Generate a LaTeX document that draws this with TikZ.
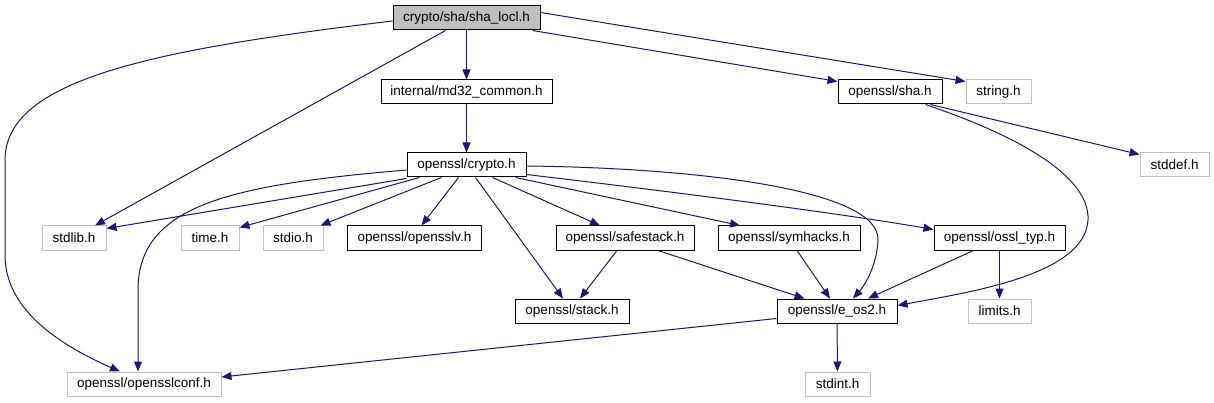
\documentclass[tikz,border=0pt]{standalone}
\usepackage{fontspec}
\setmainfont{Liberation Sans}
\usetikzlibrary{arrows.meta}
\definecolor{edgeblue}{HTML}{191970}
\definecolor{extgray}{HTML}{C0C0C0}

\begin{document}
\begin{tikzpicture}[
  x=1pt, y=-1pt,
  font=\fontsize{13.5}{16}\selectfont,
  hdr/.style={draw=black, line width=1pt, fill=white, minimum height=24pt, inner sep=0pt, anchor=center},
  sys/.style={hdr, draw=extgray},
  dep/.style={draw=edgeblue, line width=1pt, -{Triangle[length=10pt,width=8pt]}}
]
\useasboundingbox (0,0) rectangle (1214,403);

% row 1 and 2
\node[hdr, fill=gray!50, minimum width=147pt] (shalocl) at (466.5,18) {crypto/sha/sha\_locl.h};
\node[hdr, minimum width=171pt] (md32) at (466.5,92) {internal/md32\_common.h};
\node[hdr, minimum width=104pt] (sha) at (890,92) {openssl/sha.h};
\node[sys, minimum width=65pt] (string) at (998.5,92) {string.h};

% row 3
\node[hdr, minimum width=119pt] (crypto) at (466.5,165) {openssl/crypto.h};
\node[sys, minimum width=69pt] (stddef) at (1174.5,165) {stddef.h};

% row 4
\node[sys, minimum width=64pt] (stdlib) at (74,238) {stdlib.h};
\node[sys, minimum width=58pt] (time) at (210,238) {time.h};
\node[sys, minimum width=60pt] (stdio) at (293,238) {stdio.h};
\node[hdr, minimum width=134pt] (opensslv) at (414.5,238) {openssl/opensslv.h};
\node[hdr, minimum width=138pt] (safestack) at (625,238) {openssl/safestack.h};
\node[hdr, minimum width=142pt] (symhacks) at (789,238) {openssl/symhacks.h};
\node[hdr, minimum width=131pt] (ossltyp) at (999.5,238) {openssl/ossl\_typ.h};

% row 5 and 6
\node[hdr, minimum width=114pt] (stack) at (572,311) {openssl/stack.h};
\node[hdr, minimum width=120pt] (eos2) at (837,311) {openssl/e\_os2.h};
\node[sys, minimum width=63pt] (limits) at (999.5,311) {limits.h};
\node[sys, minimum width=154pt] (conf) at (144,384) {openssl/opensslconf.h};
\node[sys, minimum width=65pt] (stdint) at (837.5,384) {stdint.h};

% includes of sha_locl.h
\draw[dep] (shalocl) -- (md32);
\draw[dep] ([xshift=-21pt]shalocl.south) -- ([xshift=21pt]stdlib.north);
\draw[dep] ([xshift=-8pt]shalocl.south east) -- ([yshift=-2pt]sha.north west);
\draw[dep] ([yshift=-7pt]shalocl.north east) -- ([yshift=-2pt]string.north west);
\draw[dep] ([yshift=-3pt]shalocl.west) .. controls (150,50) and (5,80) .. (5,160)
  -- (5,255) .. controls (5,310) and (60,345) .. ([xshift=-24pt]conf.north);

% includes of the second row
\draw[dep] (md32) -- (crypto);
\draw[dep] ([xshift=-12pt]sha.south east) -- ([yshift=-2pt]stddef.north west);
\draw[dep] ([xshift=-17pt]sha.south east) .. controls (1030,140) and (1090,180) .. (1088,220)
  .. controls (1085,275) and (970,292) .. ([yshift=-7pt]eos2.north east);

% includes of crypto.h
\draw[dep] ([yshift=-1pt]crypto.south west) -- ([yshift=-3pt]stdlib.north east);
\draw[dep] ([xshift=13pt]crypto.south west) -- ([yshift=-2pt]time.north east);
\draw[dep] ([xshift=-25pt]crypto.south) -- ([xshift=-3pt]stdio.north east);
\draw[dep] ([xshift=-8pt]crypto.south) -- ([xshift=7pt]opensslv.north);
\draw[dep] ([xshift=9pt]crypto.south) -- ([xshift=-9pt]stack.north);
\draw[dep] ([xshift=26pt]crypto.south) -- ([xshift=-25pt]safestack.north);
\draw[dep] ([xshift=-11pt]crypto.south east) -- ([xshift=-49pt]symhacks.north);
\draw[dep] ([yshift=3pt]crypto.south east) .. controls (700,195) and (850,215) .. ([yshift=-4pt]ossltyp.north west);
\draw[dep] ([yshift=-1pt]crypto.east) .. controls (700,168) and (880,190) .. (878,240)
  .. controls (877,265) and (865,285) .. ([xshift=16pt]eos2.north);
\draw[dep] ([yshift=-5pt]crypto.west) .. controls (230,185) and (138,205) .. (138,290)
  -- ([xshift=-6pt]conf.north);

% lower rows
\draw[dep] ([xshift=-8pt]safestack.south) -- ([xshift=8pt]stack.north);
\draw[dep] ([xshift=33pt]safestack.south) -- ([xshift=28pt]eos2.north west);
\draw[dep] ([xshift=8pt]symhacks.south) -- ([xshift=-7pt]eos2.north);
\draw[dep] ([xshift=-26pt]ossltyp.south) -- ([xshift=31pt]eos2.north);
\draw[dep] (ossltyp) -- (limits);
\draw[dep] ([yshift=5pt]eos2.south west) -- ([yshift=7pt]conf.east);
\draw[dep] (eos2) -- (stdint);
\end{tikzpicture}
\end{document}
